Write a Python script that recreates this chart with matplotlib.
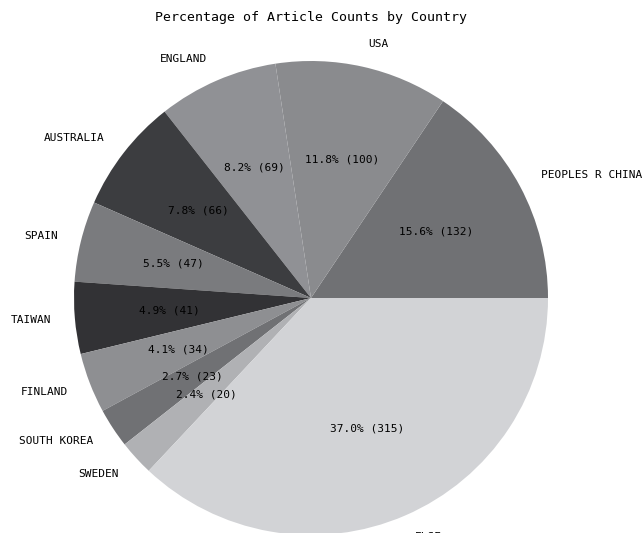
import matplotlib
matplotlib.use("Agg")
import matplotlib.pyplot as plt

# Article counts per country and the shares printed on the chart
countries = ['PEOPLES R CHINA', 'USA', 'ENGLAND', 'AUSTRALIA', 'SPAIN',
             'TAIWAN', 'FINLAND', 'SOUTH KOREA', 'SWEDEN', 'ELSE']
counts = [132, 100, 69, 66, 47, 41, 34, 23, 20, 315]
shares = [15.6, 11.8, 8.2, 7.8, 5.5, 4.9, 4.1, 2.7, 2.4, 37.0]
colors = ['#707174', '#8a8b8e', '#909195', '#3c3d40', '#7a7b7e',
          '#323235', '#8e8f92', '#707174', '#b0b1b4', '#d2d3d6']

plt.rcParams['font.family'] = ['DejaVu Sans Mono']

fig = plt.figure(figsize=(6.42, 5.33), dpi=100)
# square axes so the pie sits where it does in the picture
ax = fig.add_axes([74 / 642, -2 / 533, 474 / 642, 474 / 533])

labels_pct = ['%.1f%% (%d)' % (s, c) for s, c in zip(shares, counts)]
it = iter(labels_pct)

wedges, texts, autotexts = ax.pie(shares, labels=countries, colors=colors,
                                  autopct=lambda p: next(it), startangle=0,
                                  textprops={'fontsize': 8})
ax.set_xlim(-1, 1)
ax.set_ylim(-1, 1)
ax.set_aspect('equal')

fig.text(311 / 642, 1 - 17 / 533, 'Percentage of Article Counts by Country',
         ha='center', va='center', fontsize=9.5)

fig.savefig('out.png', dpi=100)
